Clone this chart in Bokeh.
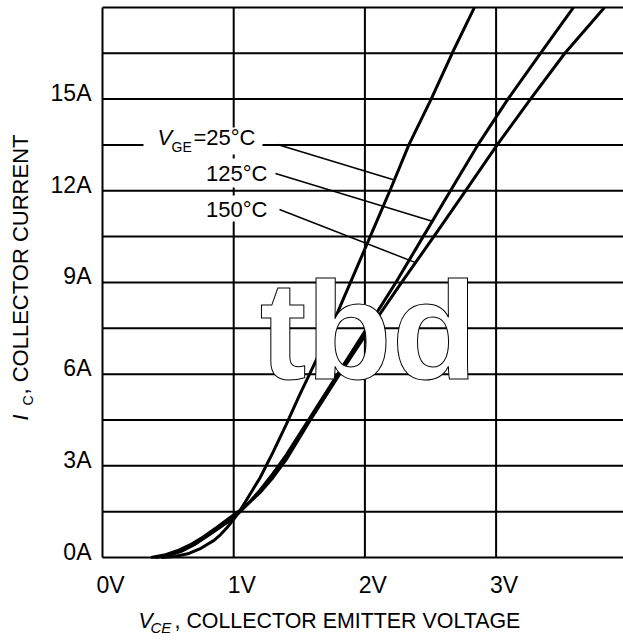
import numpy as np
from bokeh.plotting import figure
from bokeh.models import Range1d, LinearAxis, FixedTicker, Grid, Label, BoxAnnotation
from bokeh.embed import file_html
from bokeh.resources import INLINE

# ---------------- data ----------------
vce_25 = [0.45, 0.55, 0.65, 0.75, 0.85, 0.90, 0.95, 1.00, 1.05, 1.10, 1.20, 1.30, 1.40, 1.50, 1.60,
          1.70, 1.80, 1.90, 2.00, 2.10, 2.20, 2.335, 2.505, 2.665, 2.835]
ic_25 = [0.0, 0.03, 0.12, 0.30, 0.56, 0.75, 0.98, 1.25, 1.55, 1.90, 2.60, 3.45, 4.35, 5.30, 6.20,
         7.10, 8.10, 9.10, 10.10, 11.10, 12.10, 13.5, 15.0, 16.5, 18.0]

vce_125 = [0.40, 0.50, 0.60, 0.70, 0.80, 0.90, 1.00, 1.05, 1.10, 1.20, 1.30, 1.40, 1.57, 1.80,
           2.00, 2.236, 2.444, 2.652, 2.861, 3.09, 3.338, 3.59]
ic_125 = [0.0, 0.06, 0.20, 0.42, 0.70, 1.00, 1.30, 1.50, 1.72, 2.20, 2.75, 3.35, 4.50, 6.05,
          7.40, 9.0, 10.5, 12.0, 13.5, 15.0, 16.5, 18.0]

vce_150 = [0.37, 0.47, 0.57, 0.67, 0.77, 0.87, 0.97, 1.05, 1.10, 1.20, 1.30, 1.40, 1.57, 1.80,
           2.00, 2.28, 2.525, 2.767, 3.008, 3.262, 3.524, 3.826]
ic_150 = [0.0, 0.08, 0.22, 0.42, 0.68, 0.98, 1.30, 1.55, 1.72, 2.12, 2.62, 3.20, 4.40, 5.95,
          7.25, 9.0, 10.5, 12.0, 13.5, 15.0, 16.5, 18.0]

x_ticks = [0, 1, 2, 3]
x_tick_labels = {0: "0V", 1: "1V", 2: "2V", 3: "3V"}
y_ticks = [0, 3, 6, 9, 12, 15]
y_tick_labels = {0: "0A", 3: "3A", 6: "6A", 9: "9A", 12: "12A", 15: "15A"}
x_grid = [0, 1, 2, 3]
y_grid = [0, 1.5, 3, 4.5, 6, 7.5, 9, 10.5, 12, 13.5, 15, 16.5, 18]

series_labels = ["25°C", "125°C", "150°C"]
leader_currents = [12.35, 11.0, 9.65]   # where each leader touches its curve

# ---------------- geometry (page pixels) ----------------
W, H = 623, 643
ORIGIN_X, ORIGIN_Y = 102, 557     # pixel of (0 V, 0 A)
PXV = 131.2                       # pixels per volt
PXA = 30.56                       # pixels per amp
FONT = "Liberation Sans"
MID = 0.3465                      # 'middle' anchor sits this many em above the baseline


def dx(px):  # page x -> volts
    return (px - ORIGIN_X) / PXV


def dy(py):  # page y -> amps
    return (ORIGIN_Y - py) / PXA


p = figure(width=W, height=H, output_backend="svg", toolbar_location=None,
           x_range=Range1d(dx(0), dx(W)), y_range=Range1d(dy(H), dy(0)),
           x_axis_location=None, y_axis_location=None, min_border=0)
p.center = [r for r in p.center if not isinstance(r, Grid)]
p.outline_line_color = None
p.background_fill_color = "white"
p.border_fill_color = "white"
p.title.visible = False

# tick labels sit a little right of / above their grid lines
p.extra_x_ranges = {"xlab": Range1d(dx(0) - 8 / PXV, dx(W) - 8 / PXV)}
p.extra_y_ranges = {"ylab": Range1d(dy(H) - 6 / PXA, dy(0) - 6 / PXA)}

xax = LinearAxis(x_range_name="xlab", ticker=FixedTicker(ticks=x_ticks),
                 major_label_overrides=x_tick_labels, fixed_location=0)
yax = LinearAxis(y_range_name="ylab", ticker=FixedTicker(ticks=y_ticks),
                 major_label_overrides=y_tick_labels, fixed_location=0)
for ax in (xax, yax):
    ax.axis_line_color = None
    ax.major_tick_line_color = None
    ax.minor_tick_line_color = None
    ax.major_tick_out = 0
    ax.major_tick_in = 0
    ax.major_label_text_font = FONT
    ax.major_label_text_font_size = "23px"
    ax.major_label_text_color = "black"
xax.major_label_standoff = 14
yax.major_label_standoff = 11
p.add_layout(xax, "below")
p.add_layout(yax, "left")

# grid (including the left, bottom and top border lines)
x_right = dx(W) + 0.05
p.segment(x0=x_grid, y0=[min(y_grid)] * len(x_grid), x1=x_grid, y1=[max(y_grid)] * len(x_grid),
          line_color="black", line_width=2)
p.segment(x0=[min(x_grid)] * len(y_grid), y0=y_grid, x1=[x_right] * len(y_grid), y1=y_grid,
          line_color="black", line_width=2)

# ---------------- curves ----------------
curves = [(vce_25, ic_25), (vce_125, ic_125), (vce_150, ic_150)]
for vx, iy in curves:
    p.line(vx, iy, line_color="black", line_width=3)

# ---------------- annotation boxes, leaders & labels ----------------
for (l, r, t, b) in [(143, 262, 127, 154), (198, 270, 158, 187), (198, 270, 195, 221)]:
    p.add_layout(BoxAnnotation(left=dx(l), right=dx(r), top=dy(t), bottom=dy(b),
                               fill_color="white", fill_alpha=1.0, line_color=None))

lead_start = [(277, 144), (275, 173), (279, 209)]
x0s = [dx(a) for a, _ in lead_start]
y0s = [dy(b) for _, b in lead_start]
x1s = [float(np.interp(c, iy, vx)) for c, (vx, iy) in zip(leader_currents, curves)]
p.segment(x0=x0s, y0=y0s, x1=x1s, y1=leader_currents, line_color="black", line_width=1.5)


def lab(px, base, text, size=22.0, style="normal", align="left", rotated=False, font=FONT,
        color="black", **kw):
    """px: page x of the text start, base: page coordinate of the baseline."""
    if rotated:   # reads bottom-to-top; baseline is a vertical line at x = base
        x, y, ang = dx(base - MID * size), dy(px), np.pi / 2
    else:
        x, y, ang = dx(px), dy(base - MID * size), 0.0
    p.add_layout(Label(x=x, y=y, text=text, text_font=font, text_font_size=f"{size}px",
                       text_font_style=style, text_align=align, text_baseline="middle",
                       text_color=color, angle=ang, **kw))


lab(157, 145, "V", style="italic")
lab(171, 151, "GE", size=14)
lab(193, 145, "=" + series_labels[0])
lab(267, 181, series_labels[1], align="right")
lab(267, 217, series_labels[2], align="right")

# watermark
wm = dict(x=dx(368), y=dy(330), text="tbd", text_font=FONT, text_font_size="140px",
          text_font_style="bold", text_color="white", text_outline_color="black",
          text_align="center", text_baseline="middle")
if "text_outline_width" in Label.properties():
    wm["text_outline_width"] = 2
p.add_layout(Label(**wm))

# axis titles
lab(138, 628, "V", size=21.4, style="italic")
lab(150, 632, "CE", size=15, style="italic")
lab(174, 628, ", COLLECTOR EMITTER VOLTAGE", size=21.4)

lab(420, 28, "I", style="italic", rotated=True)
lab(405, 32, "C", size=14, rotated=True)
lab(394, 28, ", COLLECTOR CURRENT", rotated=True)

open("out.html", "w").write(file_html(p, INLINE))
